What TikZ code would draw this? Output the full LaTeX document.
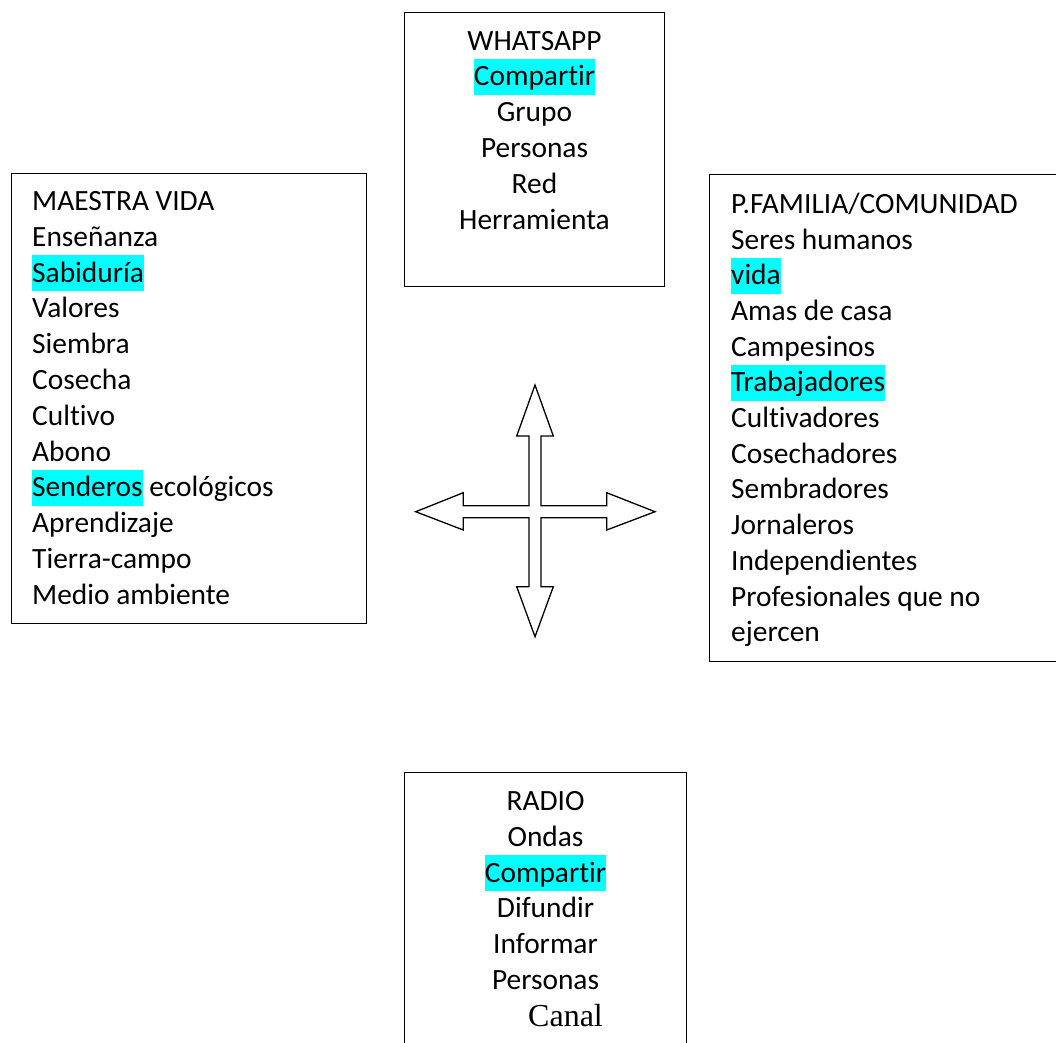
\documentclass[tikz,border=0pt]{standalone}
\usepackage{fontspec}
\setmainfont{Carlito}[Ligatures=NoCommon]
\newfontfamily\canalfont{Liberation Serif}
\definecolor{hlcyan}{HTML}{00FFFF}
\newcommand\hlw[1]{{\setlength{\fboxsep}{0pt}\colorbox{hlcyan}{\rule[-9.3pt]{0pt}{36pt}#1}}}
\begin{document}
\begin{tikzpicture}[x=1pt,y=-1pt,
  box/.style={draw=black, line width=1.3pt, inner sep=0pt, anchor=north west},
  txt/.style={inner sep=0pt, font=\fontsize{29.4}{35.7}\selectfont},
  crossline/.style={draw=black, line width=1.3pt, line join=miter, fill=white}]
\useasboundingbox (0,0) rectangle (1056,1042);
\clip (0,0) rectangle (1056,1042);
\fill[white] (0,0) rectangle (1056,1042);

% boxes
\node[box, minimum width=260pt, minimum height=274pt] (wa) at (404,12) {};
\node[box, minimum width=355pt, minimum height=450pt] (mv) at (11,173) {};
\node[box, minimum width=360pt, minimum height=487pt] (pf) at (709,174) {};
\node[box, minimum width=282pt, minimum height=290pt] (ra) at (404,772) {};

% WHATSAPP
\foreach \t [count=\i] in {WHATSAPP, \hlw{Compartir}, Grupo, Personas, Red, Herramienta}
  \node[txt, anchor=base] (wa\i) at (534.5, {50+(\i-1)*35.8}) {\t};

% MAESTRA VIDA
\foreach \t [count=\i] in {MAESTRA VIDA, Enseñanza, \hlw{Sabiduría}, Valores, Siembra, Cosecha, Cultivo, Abono, \hlw{Senderos} ecológicos, Aprendizaje, Tierra-campo, Medio ambiente}
  \node[txt, anchor=base west] (mv\i) at (32, {210.5+(\i-1)*35.8}) {\t};

% P.FAMILIA
\foreach \t [count=\i] in {P.FAMILIA/COMUNIDAD, Seres humanos, \hlw{vida}, Amas de casa, Campesinos, \hlw{Trabajadores}, Cultivadores, Cosechadores, Sembradores, Jornaleros, Independientes, Profesionales que no, ejercen}
  \node[txt, anchor=base west] (pf\i) at (731, {213.3+(\i-1)*35.7}) {\t};

% RADIO
\foreach \t [count=\i] in {RADIO, Ondas, \hlw{Compartir}, Difundir, Informar, Personas}
  \node[txt, anchor=base] (ra\i) at (545.5, {810.7+(\i-1)*35.7}) {\t};
\node[inner sep=0pt, anchor=base west, font=\canalfont\fontsize{32}{38}\selectfont] (canal) at (528,1026.7) {Canal};

% four-way arrow
\coordinate (cc) at (535,511.7);
\draw[crossline] (535,385) -- (553.3,436) -- (541,436) -- (541,505.7) -- (606.7,505.7)
  -- (606.7,492.7) -- (655,511.7) -- (606.7,530) -- (606.7,517.7) -- (541,517.7)
  -- (541,586.7) -- (553.3,586.7) -- (535,636.7) -- (516.7,586.7) -- (529,586.7)
  -- (529,517.7) -- (463.3,517.7) -- (463.3,530) -- (415.7,511.7) -- (463.3,492.7)
  -- (463.3,505.7) -- (529,505.7) -- (529,436) -- (516.7,436) -- cycle;
\end{tikzpicture}
\end{document}
